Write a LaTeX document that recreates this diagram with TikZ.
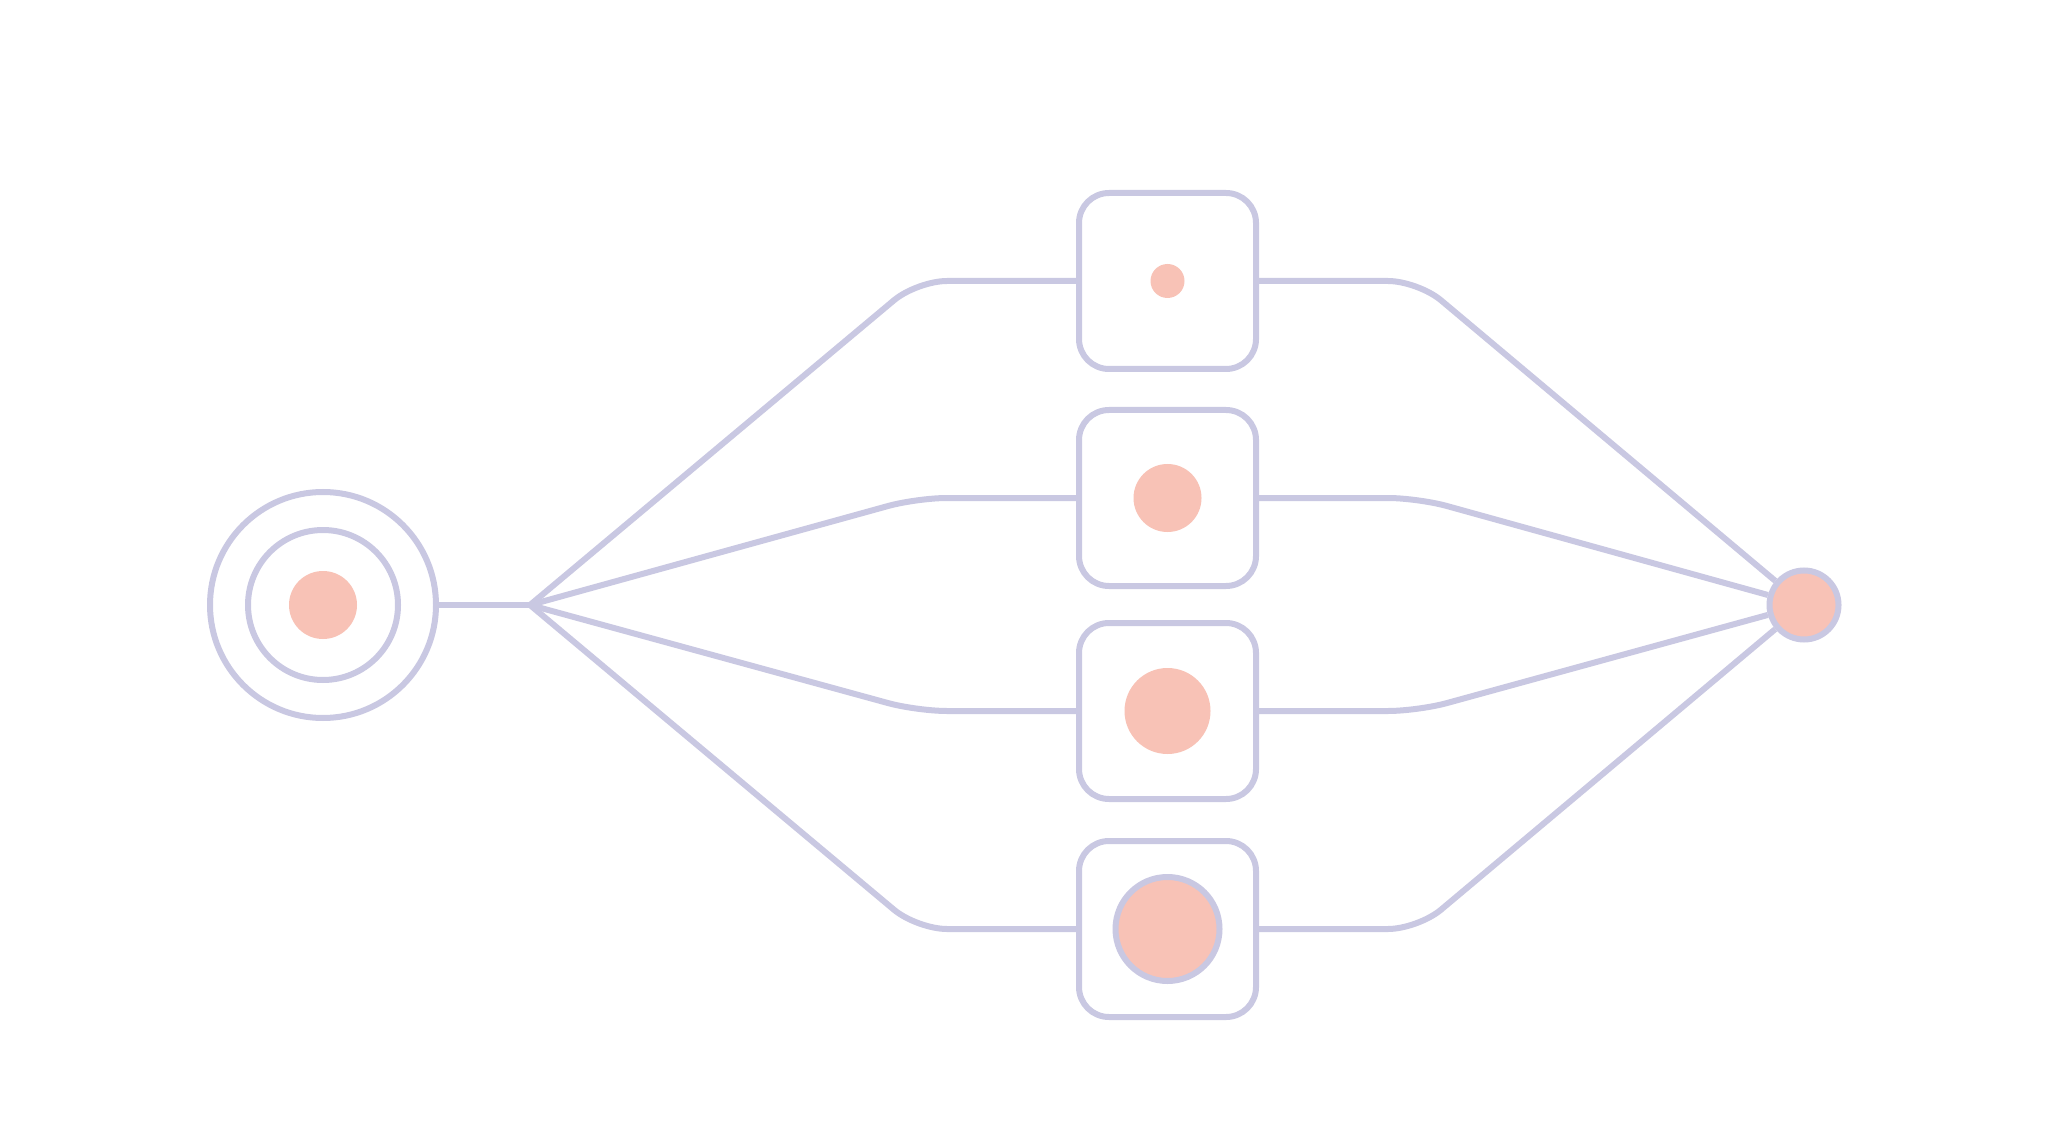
\documentclass[tikz,border=0pt]{standalone}
\begin{document}
\begin{tikzpicture}[x=0.5pt, y=-0.5pt,
  wire/.style={draw=lav, line width=3pt, rounded corners=15pt},
  ring/.style={circle, draw=lav, line width=3pt, inner sep=0pt},
  blob/.style={circle, fill=peach, inner sep=0pt},
  stage/.style={rectangle, draw=lav, line width=3pt, rounded corners=15pt,
    minimum width=88.5pt, minimum height=88pt, inner sep=0pt}]
\definecolor{lav}{HTML}{C9C8E2}
\definecolor{peach}{HTML}{F8C2B6}
\fill[white] (0,0) rectangle (2048,1138);
\useasboundingbox (0,0) rectangle (2048,1138);
% source: nested rings
\node[ring, minimum size=113pt] (source) at (323,605) {};
\node[ring, minimum size=75pt] (sourcein) at (323,605) {};
\node[blob, minimum size=34pt] (sourcedot) at (323,605) {};
\coordinate (split) at (530,605);
\coordinate (lknee) at (917,605);
\coordinate (rknee) at (1418,605);
% stages
\node[stage] (box1) at (1167.5,281) {};
\node[blob, minimum size=17pt] (dot1) at (1167.5,281) {};
\node[stage] (box2) at (1167.5,498) {};
\node[blob, minimum size=34pt] (dot2) at (1167.5,498) {};
\node[stage] (box3) at (1167.5,711) {};
\node[blob, minimum size=43pt] (dot3) at (1167.5,711) {};
\node[stage] (box4) at (1167.5,929) {};
\node[ring, blob, minimum size=52pt] (dot4) at (1167.5,929) {};
% sink
\node[ring, fill=peach, minimum size=34.5pt] (sink) at (1804,605) {};
\draw[wire] (source) -- (split);
\foreach \i in {1,...,4} {
  \draw[wire] (split) -- (lknee |- box\i) -- (box\i);
  \draw[wire] (box\i) -- (rknee |- box\i) -- (sink);
}
\end{tikzpicture}
\end{document}
